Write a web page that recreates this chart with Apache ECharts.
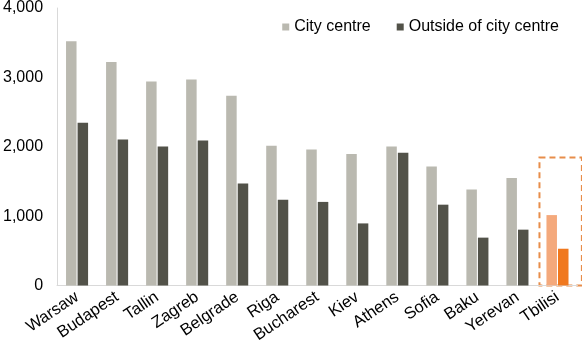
<!DOCTYPE html>
<html>
<head>
<meta charset="utf-8">
<script src="https://cdn.jsdelivr.net/npm/echarts@6/dist/echarts.min.js"></script>
<style>html,body{margin:0;padding:0;background:#fff}#c{width:582px;height:349px}</style>
</head>
<body>
<div id="c"></div>
<script>
const categories = ['Warsaw','Budapest','Tallin','Zagreb','Belgrade','Riga','Bucharest','Kiev','Athens','Sofia','Baku','Yerevan','Tbilisi'];
const cityCentre = [3520,3220,2940,2970,2735,2015,1960,1895,2005,1715,1385,1550,1015];
const outsideCentre = [2345,2105,2005,2090,1470,1235,1205,895,1915,1165,690,805,530];
const yTicks = [0,1000,2000,3000,4000];
const highlight = 'Tbilisi';

const fontFam = '"Liberation Sans", Arial, sans-serif';
const lightGrey = '#bab9b0', darkGrey = '#525249';
const lightOrange = '#f4a97c', darkOrange = '#f0781e';

const chart = echarts.init(document.getElementById('c'), null, {renderer:'canvas'});
function colorFor(base, hl){ return p => categories[p.dataIndex] === highlight ? hl : base; }

chart.setOption({
  animation:false,
  grid:{left:57,right:4.5,top:7,bottom:63.5,containLabel:false},
  legend:{
    top:14, right:18, itemWidth:7, itemHeight:7, itemGap:26,
    icon:'rect',
    textStyle:{fontFamily:fontFam,fontSize:16,color:'#000'},
    data:[{name:'City centre',itemStyle:{color:lightGrey}},{name:'Outside of city centre',itemStyle:{color:darkGrey}}]
  },
  xAxis:{
    type:'category', data:categories,
    axisLine:{lineStyle:{color:'#d9d9d9'}}, axisTick:{show:false},
    axisLabel:{rotate:34, interval:0, fontFamily:fontFam, fontSize:16.5, color:'#000', margin:10}
  },
  yAxis:{
    type:'value', min:0, max:4000, interval:1000,
    axisLine:{show:true,lineStyle:{color:'#d9d9d9'}}, axisTick:{show:false},
    splitLine:{show:false},
    axisLabel:{fontFamily:fontFam, fontSize:16, color:'#000', margin:14,
      formatter:v => yTicks.includes(v) ? v.toLocaleString('en-US') : ''}
  },
  series:[
    {name:'City centre', type:'bar', data:cityCentre, barWidth:10.5, barGap:'10%',
     itemStyle:{color:colorFor(lightGrey, lightOrange)}},
    {name:'Outside of city centre', type:'bar', data:outsideCentre, barWidth:10.5,
     itemStyle:{color:colorFor(darkGrey, darkOrange)}}
  ]
});

const idx = categories.indexOf(highlight);
const c0 = chart.convertToPixel({xAxisIndex:0}, idx);
const yTop = chart.convertToPixel({yAxisIndex:0}, 1845);
const yBot = chart.convertToPixel({yAxisIndex:0}, 0);
const step = chart.convertToPixel({xAxisIndex:0}, 1) - chart.convertToPixel({xAxisIndex:0}, 0);
chart.setOption({graphic:[{
  type:'rect', silent:true,
  shape:{x:c0 - step*0.45, y:yTop, width:step*1.06, height:yBot - yTop},
  style:{fill:'none', stroke:'#e88d4a', lineWidth:2, lineDash:[6,4]}
}]});
</script>
</body>
</html>
